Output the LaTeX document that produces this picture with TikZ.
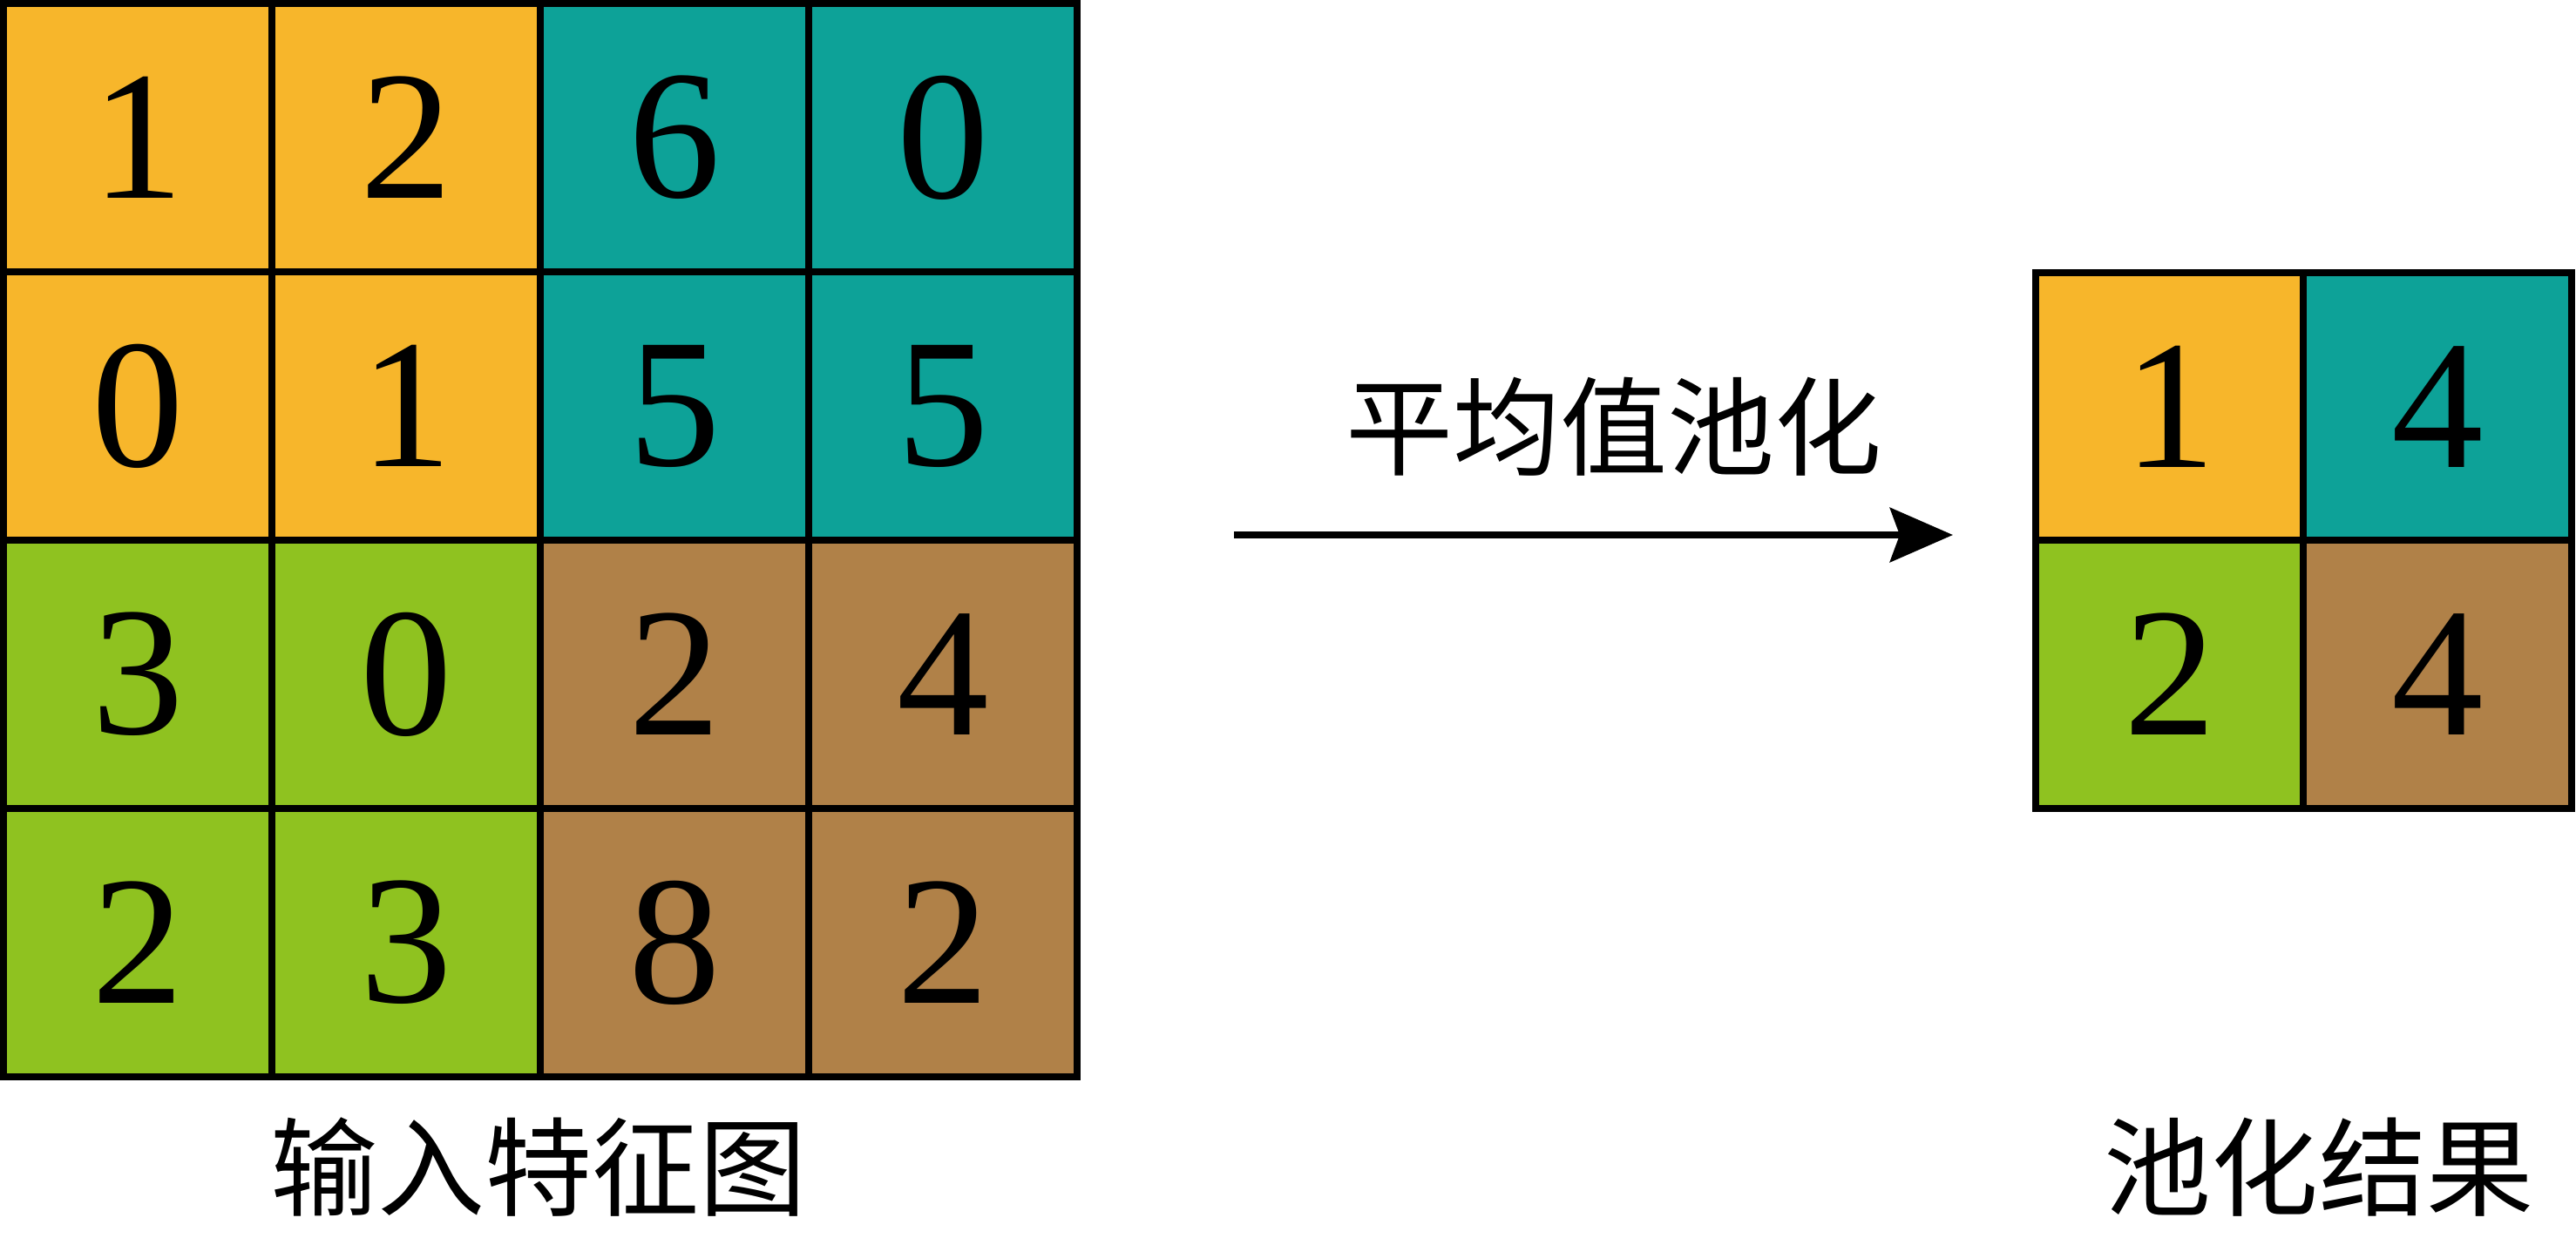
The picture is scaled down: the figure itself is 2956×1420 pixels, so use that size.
\documentclass[tikz,border=0pt]{standalone}
\usepackage{fontspec}
\setmainfont{Liberation Serif}
\newfontfamily\cjk{Noto Sans CJK SC}
\usetikzlibrary{arrows.meta}
\definecolor{cOr}{RGB}{247,182,43}
\definecolor{cTe}{RGB}{13,162,152}
\definecolor{cGr}{RGB}{143,194,32}
\definecolor{cBr}{RGB}{176,129,72}
\tikzset{
  cell/.style={draw=black, line width=2.3pt, minimum size=3.08cm, inner sep=0pt,
    font=\fontsize{60}{60}\selectfont},
  lbl/.style={font=\cjk\fontsize{35}{35}\selectfont, inner sep=0pt},
  arr/.style={line width=2.5pt, -{Stealth[length=0.72cm, width=0.62cm, inset=0.11cm]}}
}
\begin{document}
\begin{tikzpicture}[x=0.01cm, y=-0.01cm]
\useasboundingbox (0,0) rectangle (2956,1420);
% input feature map
\node[cell, fill=cOr] (a11) at (158,158) {1};
\node[cell, fill=cOr] (a12) at (466,158) {2};
\node[cell, fill=cTe] (a13) at (774,158) {6};
\node[cell, fill=cTe] (a14) at (1082,158) {0};
\node[cell, fill=cOr] (a21) at (158,466) {0};
\node[cell, fill=cOr] (a22) at (466,466) {1};
\node[cell, fill=cTe] (a23) at (774,466) {5};
\node[cell, fill=cTe] (a24) at (1082,466) {5};
\node[cell, fill=cGr] (a31) at (158,774) {3};
\node[cell, fill=cGr] (a32) at (466,774) {0};
\node[cell, fill=cBr] (a33) at (774,774) {2};
\node[cell, fill=cBr] (a34) at (1082,774) {4};
\node[cell, fill=cGr] (a41) at (158,1082) {2};
\node[cell, fill=cGr] (a42) at (466,1082) {3};
\node[cell, fill=cBr] (a43) at (774,1082) {8};
\node[cell, fill=cBr] (a44) at (1082,1082) {2};
% pooled result
\node[cell, fill=cOr] (b11) at (2490,467) {1};
\node[cell, fill=cTe] (b12) at (2797,467) {4};
\node[cell, fill=cGr] (b21) at (2490,774) {2};
\node[cell, fill=cBr] (b22) at (2797,774) {4};
% arrow
\coordinate (as) at (1416,614);
\coordinate (ae) at (2241,614);
\draw[arr] (as) -- (ae);
\node[lbl] (t1) at (1852,490) {平均值池化};
\node[lbl] (t2) at (618,1340) {输入特征图};
\node[lbl] (t3) at (2661,1340) {池化结果};
\end{tikzpicture}
\end{document}
